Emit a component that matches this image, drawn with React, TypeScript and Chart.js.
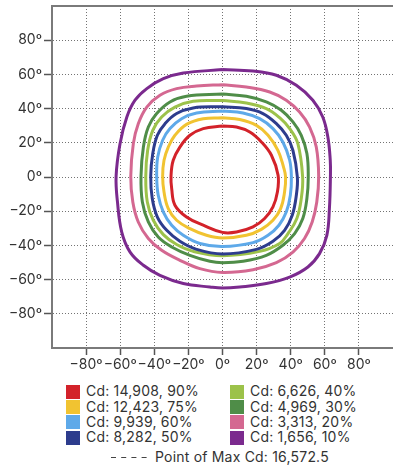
import React, { useEffect, useRef } from 'react';
import { Chart, registerables } from 'chart.js';

Chart.register(...registerables);

// Axis tick values (degrees)
const tickValues = [-80, -60, -40, -20, 0, 20, 40, 60, 80];

// Iso-candela contours: horizontal angle (x) and vertical angle (y), in degrees
const cd90X = [0, 8.2, 16.0, 22.8, 28.7, 32.6, 32.2, 29.6, 24.7, 17.9, 8.2, 0, -11.3, -21.1, -27.9, -29.8, -30.2, -28.9, -25.0, -19.1, -11.3, 0];
const cd90Y = [29.8, 29.2, 26.3, 20.5, 12.7, 1.0, -8.8, -17.5, -24.3, -29.2, -32.2, -32.4, -28.2, -23.4, -16.5, -6.8, 0.5, 9.8, 17.5, 24.4, 28.3, 29.8];

const cd75X = [0, 10.1, 19.9, 26.7, 32.5, 35.8, 37.0, 36.4, 34.1, 29.6, 22.8, 14.0, 0, -9.4, -19.1, -26.9, -31.8, -34.3, -35.1, -34.3, -31.8, -27.9, -21.1, -11.3, 0];
const cd75Y = [34.6, 33.6, 30.2, 24.4, 15.6, 5.8, 0, -8.8, -18.5, -25.3, -30.6, -34.1, -35.7, -34.1, -30.2, -25.3, -18.5, -8.8, 0.5, 9.8, 17.5, 24.4, 30.8, 34.1, 34.6];

const cd60X = [0, 12.0, 21.8, 29.6, 35.4, 39.4, 40.4, 39.8, 37.4, 33.1, 26.7, 17.9, 0, -13.3, -23.0, -29.8, -34.7, -37.7, -38.6, -38.0, -35.1, -30.8, -24.0, -15.2, 0];
const cd60Y = [38.6, 37.4, 34.1, 28.3, 20.5, 9.8, 0, -10.7, -20.5, -28.2, -34.1, -38.4, -40.7, -38.9, -34.1, -28.2, -20.5, -10.7, 0.5, 11.7, 21.5, 28.3, 34.1, 37.4, 38.6];

const cd50X = [0, 14.0, 23.7, 31.6, 37.4, 41.3, 43.9, 43.3, 40.9, 36.4, 29.6, 19.9, 0, -15.2, -25.0, -32.7, -38.2, -41.2, -42.1, -40.9, -38.2, -33.7, -26.9, -17.2, 0];
const cd50Y = [41.1, 40.0, 37.1, 31.2, 24.4, 15.6, 0, -10.7, -22.4, -31.2, -37.6, -42.3, -45.0, -42.3, -37.6, -31.2, -23.4, -12.6, 0.5, 13.7, 24.4, 31.2, 37.1, 40.4, 41.1];

const cd40X = [0, 14.0, 25.7, 33.5, 39.4, 44.2, 47.0, 46.2, 43.6, 38.4, 33.5, 21.8, 0, -17.2, -26.9, -34.7, -40.6, -44.1, -45.0, -43.9, -40.9, -35.7, -27.9, -17.2, 0];
const cd40Y = [44.7, 43.3, 40.0, 34.7, 28.3, 19.5, 0, -12.6, -24.3, -33.1, -38.9, -43.5, -46.0, -43.5, -39.5, -33.7, -25.3, -14.6, 0.5, 15.6, 27.3, 35.1, 40.9, 44.3, 44.7];

const cd30X = [0, 14.0, 25.7, 34.5, 41.3, 46.2, 49.5, 50.3, 49.5, 47.1, 42.3, 35.4, 25.7, 12.0, 0, -7.4, -19.1, -29.8, -37.7, -43.5, -47.0, -47.8, -46.4, -43.5, -38.6, -30.8, -21.1, 0];
const cd30Y = [48.5, 47.2, 43.9, 39.0, 32.2, 24.4, 13.7, 0, -12.6, -24.3, -33.1, -39.9, -45.8, -49.3, -50.1, -49.3, -45.8, -40.9, -35.1, -26.3, -14.6, 0.5, 17.5, 29.2, 37.1, 43.9, 47.2, 48.5];

const cd20X = [0, 14.0, 27.7, 37.4, 45.2, 51.1, 55.0, 56.4, 55.3, 52.6, 48.1, 41.3, 31.6, 17.9, 0, -13.3, -25.0, -35.7, -43.5, -49.4, -52.6, -53.8, -52.3, -49.4, -44.4, -36.7, -26.9, -15.2, 0];
const cd20Y = [54.0, 52.6, 49.7, 44.9, 38.0, 29.2, 17.5, 0.5, -14.6, -26.3, -36.0, -43.9, -50.1, -54.2, -55.8, -53.6, -48.7, -42.9, -36.0, -26.3, -14.6, 0.5, 19.5, 31.2, 40.9, 47.8, 51.7, 53.2, 54.0];

const cd10X = [0, 17.9, 31.6, 43.3, 53.0, 58.8, 61.8, 63.2, 63.3, 62.7, 61.2, 56.9, 50.1, 39.4, 25.7, 10.1, 0, -7.4, -23.0, -36.7, -46.4, -54.2, -59.1, -61.6, -62.4, -60.1, -56.1, -51.3, -44.4, -34.7, -23.0, 0];
const cd10Y = [62.8, 62.0, 59.5, 53.6, 44.9, 35.1, 23.4, 9.8, 0.5, -18.5, -34.1, -44.8, -52.6, -58.5, -62.3, -64.3, -64.9, -64.3, -62.3, -57.5, -51.6, -43.9, -32.2, -14.6, 0.5, 19.5, 35.1, 44.9, 51.7, 57.5, 60.8, 62.8];

const seriesLabels = [
  'Cd: 14,908, 90%',
  'Cd: 12,423, 75%',
  'Cd: 9,939, 60%',
  'Cd: 8,282, 50%',
  'Cd: 6,626, 40%',
  'Cd: 4,969, 30%',
  'Cd: 3,313, 20%',
  'Cd: 1,656, 10%',
];
const seriesColors = ['#d3222a', '#f1c331', '#5ea9e9', '#2d3c8d', '#9cc24a', '#4f8d48', '#d46891', '#7b2a8e'];
const seriesX = [cd90X, cd75X, cd60X, cd50X, cd40X, cd30X, cd20X, cd10X];
const seriesY = [cd90Y, cd75Y, cd60Y, cd50Y, cd40Y, cd30Y, cd20Y, cd10Y];
const maxCdLabel = 'Point of Max Cd: 16,572.5';

const FONT = 'Inter, "Liberation Sans", Arial, sans-serif';
const FONT_SIZE = 14;
const TEXT = '#333333';

const fmtTick = (v: number) => (v < 0 ? '\u2212' + Math.abs(v) : String(v)) + '\u00BA';

const topBorder = {
  id: 'topBorder',
  afterDraw(chart: any) {
    const { ctx, chartArea } = chart;
    ctx.save();
    ctx.strokeStyle = '#7a7a7a';
    ctx.lineWidth = 2;
    ctx.beginPath();
    ctx.moveTo(chartArea.left - 1, chartArea.top);
    ctx.lineTo(chartArea.right, chartArea.top);
    ctx.stroke();
    ctx.restore();
  },
};

export default function App() {
  const ref = useRef<HTMLCanvasElement>(null);

  useEffect(() => {
    const axisCommon = (isX: boolean) => ({
      type: 'linear' as const,
      min: -100,
      max: 100,
      afterBuildTicks: (s: any) => {
        s.ticks = tickValues.map((v) => ({ value: v }));
      },
      afterFit: (s: any) => {
        if (isX) {
          s.height = 32;
          s.paddingLeft = 0;
          s.paddingRight = 0;
        } else {
          s.width = 52;
          s.paddingTop = 0;
          s.paddingBottom = 0;
        }
      },
      grid: {
        color: 'rgba(90,90,90,0.85)',
        lineWidth: 1,
        drawTicks: true,
        tickLength: isX ? 7 : 8,
        tickColor: '#555555',
        tickWidth: 1.5,
      },
      border: { display: true, color: '#7a7a7a', width: 2, dash: [1, 2] },
      ticks: {
        autoSkip: false,
        maxRotation: 0,
        minRotation: 0,
        padding: isX ? 1 : 2,
        color: TEXT,
        font: { family: FONT, size: FONT_SIZE },
        callback: (v: any) => fmtTick(Number(v)),
      },
    });

    const chart = new Chart(ref.current as HTMLCanvasElement, {
      type: 'scatter',
      data: {
        datasets: seriesLabels.map((label, i) => ({
          label,
          data: seriesX[i].map((x, j) => ({ x, y: seriesY[i][j] })),
          showLine: true,
          borderColor: seriesColors[i],
          backgroundColor: seriesColors[i],
          borderWidth: 3,
          pointRadius: 0,
          pointHoverRadius: 0,
          tension: 0.4,
          fill: false,
        })),
      },
      options: {
        animation: false,
        responsive: false,
        maintainAspectRatio: false,
        layout: { padding: { top: 6, right: 0, bottom: 0, left: 0 } },
        plugins: { legend: { display: false }, tooltip: { enabled: false } },
        scales: {
          x: axisCommon(true) as any,
          y: axisCommon(false) as any,
        },
      },
      plugins: [topBorder],
    });
    return () => chart.destroy();
  }, []);

  const rowCenter = (r: number) => 391.7 + r * 15.3;
  const textStyle = {
    position: 'absolute' as const,
    height: 16,
    lineHeight: '16px',
    fontFamily: FONT,
    fontSize: FONT_SIZE,
    letterSpacing: '0.2px',
    color: TEXT,
    whiteSpace: 'nowrap' as const,
  };
  const legendItems = seriesLabels.map((label, i) => {
    const col = i < 4 ? 0 : 1;
    const row = i % 4;
    const boxLeft = col === 0 ? 66 : 230;
    const textLeft = col === 0 ? 86 : 250;
    const c = rowCenter(row);
    return (
      <React.Fragment key={label}>
        <div
          style={{
            position: 'absolute',
            left: boxLeft,
            top: c - 7,
            width: 14,
            height: 14,
            background: seriesColors[i],
          }}
        />
        <div style={{ ...textStyle, left: textLeft, top: c - 8.5 }}>{label}</div>
      </React.Fragment>
    );
  });

  return (
    <div style={{ position: 'absolute', left: 0, top: 0, width: 393, height: 468, overflow: 'hidden', background: '#fff' }}>
      <canvas ref={ref} width={393} height={380} style={{ position: 'absolute', left: 0, top: 0, display: 'block' }} />
      {legendItems}
      <svg style={{ position: 'absolute', left: 111, top: 455.5 }} width={38} height={3}>
        <line x1={0} y1={1.5} x2={38} y2={1.5} stroke="#444" strokeWidth={1.2} strokeDasharray="5 5.2" />
      </svg>
      <div style={{ ...textStyle, left: 155, top: 448.5 }}>{maxCdLabel}</div>
    </div>
  );
}
